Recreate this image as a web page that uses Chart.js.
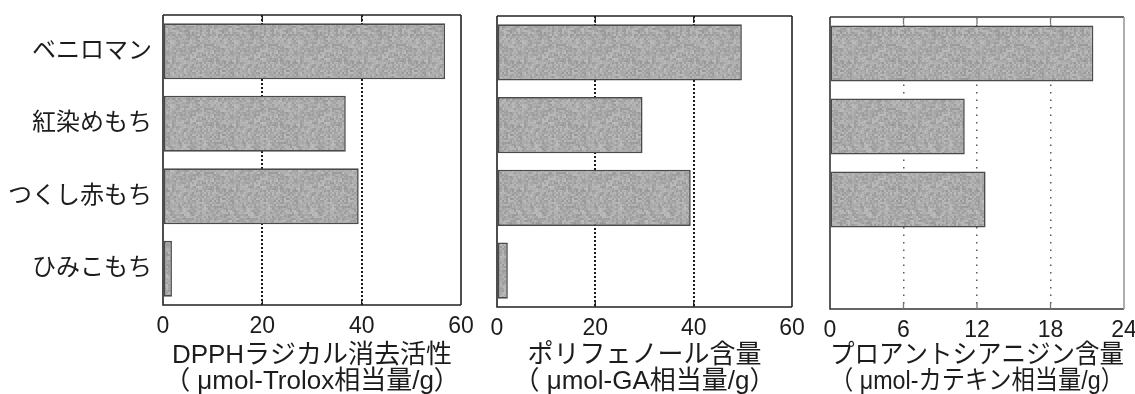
<!DOCTYPE html>
<html lang="ja">
<head>
<meta charset="utf-8">
<script src="https://cdn.jsdelivr.net/npm/chart.js@4.4.1/dist/chart.umd.min.js"></script>
<style>
  html, body { margin: 0; padding: 0; background: #fff; overflow: hidden; }
  body { width: 1135px; height: 394px; position: relative; }
  .panel { position: absolute; top: 0; height: 394px; }
</style>
</head>
<body>
<div class="panel" style="left:0;width:480px"><canvas id="c1" width="480" height="394"></canvas></div>
<div class="panel" style="left:480px;width:330px"><canvas id="c2" width="330" height="394"></canvas></div>
<div class="panel" style="left:810px;width:330px"><canvas id="c3" width="330" height="394"></canvas></div>
<script>
// Cultivars (top to bottom)
const varieties = ['ベニロマン', '紅染めもち', 'つくし赤もち', 'ひみこもち'];

// DPPH radical scavenging activity (μmol-Trolox eq./g)
const dpphValues = [56.8, 36.8, 39.4, 1.8];
// Polyphenol content (μmol-GA eq./g)
const polyphenolValues = [49.8, 29.6, 39.4, 2.2];
// Proanthocyanidin content (μmol-catechin eq./g)
const proanthocyanidinValues = [21.5, 11.0, 12.7, 0];

// Axis ranges and tick steps
const dpphTicks = { min: 0, max: 60, step: 20 };
const polyphenolTicks = { min: 0, max: 60, step: 20 };
const proanthocyanidinTicks = { min: 0, max: 24, step: 6 };

// Axis titles (two lines each)
const dpphTitle = ['DPPHラジカル消去活性', '（ μmol-Trolox相当量/g）'];
const polyphenolTitle = ['ポリフェノール含量', '（ μmol-GA相当量/g）'];
const proanthocyanidinTitle = ['プロアントシアニジン含量', '（ μmol-カテキン相当量/g）'];

const FONT = '"Liberation Sans", Arial, "Noto Sans CJK JP", sans-serif';
const INK = '#1c1c1c';

// Stippled grey fill for the bars (deterministic hash, fixed tile, 2px grain)
function stippleFill() {
  const size = 64;
  const tile = document.createElement('canvas');
  tile.width = size;
  tile.height = size;
  const tctx = tile.getContext('2d');
  const img = tctx.createImageData(size, size);
  const grain = (gx, gy) => {
    let h = (gx * 374761393 + gy * 668265263) | 0;
    h = Math.imul(h ^ (h >>> 13), 1274126177);
    h = (h ^ (h >>> 16)) >>> 0;
    return (h & 255) / 255 - 0.5;
  };
  for (let y = 0; y < size; y++) {
    for (let x = 0; x < size; x++) {
      const coarse = grain(x >> 1, y >> 1);
      const fine = grain(x + 97, y + 53);
      const v = 170 + coarse * 34 + fine * 12;
      const k = (y * size + x) * 4;
      img.data[k] = v;
      img.data[k + 1] = v;
      img.data[k + 2] = v;
      img.data[k + 3] = 255;
    }
  }
  tctx.putImageData(img, 0, 0);
  return tctx.createPattern(tile, 'repeat');
}

// Frame around the plot area plus short solid ticks at the inner gridlines
const framePlugin = {
  id: 'frame',
  afterDatasetsDraw(chart, args, opts) {
    const { ctx, chartArea: a, scales } = chart;
    ctx.save();
    ctx.lineWidth = 1.6;
    ctx.strokeStyle = opts.color || '#222';
    ctx.beginPath();
    ctx.moveTo(a.left, a.top);
    ctx.lineTo(a.right, a.top);
    ctx.stroke();
    ctx.beginPath();
    ctx.moveTo(a.left, a.top);
    ctx.lineTo(a.left, a.bottom);
    ctx.lineTo(a.right, a.bottom);
    ctx.stroke();
    ctx.strokeStyle = opts.rightColor || opts.color || '#222';
    ctx.beginPath();
    ctx.moveTo(a.right, a.top);
    ctx.lineTo(a.right, a.bottom);
    ctx.stroke();
    // inward tick marks
    const x = scales.x;
    ctx.strokeStyle = opts.tickColor || '#222';
    ctx.lineWidth = 1.3;
    x.ticks.forEach((t, i) => {
      if (i === 0 || i === x.ticks.length - 1) return;
      const px = x.getPixelForValue(t.value);
      ctx.beginPath();
      ctx.moveTo(px, a.top);
      ctx.lineTo(px, a.top + 7);
      ctx.moveTo(px, a.bottom);
      ctx.lineTo(px, a.bottom - 6);
      ctx.stroke();
    });
    ctx.restore();
  }
};

const barFill = stippleFill();

function makePanel(id, values, range, title, geom) {
  const canvas = document.getElementById(id);
  const lastTick = (range.max - range.min) / range.step;
  return new Chart(canvas, {
    type: 'bar',
    data: {
      labels: varieties,
      datasets: [{
        data: values,
        backgroundColor: barFill,
        borderColor: '#4a4a4a',
        borderWidth: 1.6,
        borderSkipped: false,
        categoryPercentage: 1.0,
        barPercentage: 0.77
      }]
    },
    options: {
      indexAxis: 'y',
      responsive: false,
      animation: false,
      devicePixelRatio: 1,
      layout: { padding: { top: geom.top, right: geom.right, left: 0, bottom: 0 } },
      plugins: {
        legend: { display: false },
        tooltip: { enabled: false },
        frame: geom.frame
      },
      scales: {
        x: {
          type: 'linear',
          min: range.min,
          max: range.max,
          ticks: {
            stepSize: range.step,
            padding: 8,
            color: INK,
            font: { family: FONT, size: 23 }
          },
          grid: {
            drawTicks: false,
            color: (c) => (c.index === 0 || c.index === lastTick) ? 'rgba(0,0,0,0)' : geom.gridColor,
            lineWidth: geom.gridWidth
          },
          border: { display: false, dash: geom.dash },
          title: {
            display: true,
            text: title,
            color: INK,
            font: { family: FONT, size: 26, lineHeight: 1.0 },
            padding: { top: 0, bottom: -1 }
          },
          afterFit(scale) {
            scale.height = 394 - geom.top - geom.height;
            scale.paddingLeft = 0;
            scale.paddingRight = 0;
          }
        },
        y: {
          ticks: {
            display: geom.showLabels,
            padding: 11,
            color: INK,
            font: { family: FONT, size: 24 }
          },
          grid: { display: false, drawTicks: false },
          border: { display: false },
          afterFit(scale) {
            scale.width = geom.left;
            scale.paddingTop = 0;
            scale.paddingBottom = 0;
          }
        }
      }
    },
    plugins: [framePlugin]
  });
}

makePanel('c1', dpphValues, dpphTicks, dpphTitle, {
  top: 15, height: 290, left: 163, right: 19, showLabels: true,
  gridColor: '#1a1a1a', gridWidth: 2, dash: [2, 2],
  frame: { color: '#222', tickColor: '#222' }
});
makePanel('c2', polyphenolValues, polyphenolTicks, polyphenolTitle, {
  top: 16, height: 291, left: 17, right: 18, showLabels: false,
  gridColor: '#1a1a1a', gridWidth: 2, dash: [2, 2],
  frame: { color: '#222', tickColor: '#222' }
});
makePanel('c3', proanthocyanidinValues, proanthocyanidinTicks, proanthocyanidinTitle, {
  top: 17, height: 292, left: 20, right: 16, showLabels: false,
  gridColor: '#5a5a5a', gridWidth: 1.5, dash: [1.5, 6],
  frame: { color: '#333', rightColor: '#9a9a9a', tickColor: '#777' }
});
</script>
</body>
</html>
